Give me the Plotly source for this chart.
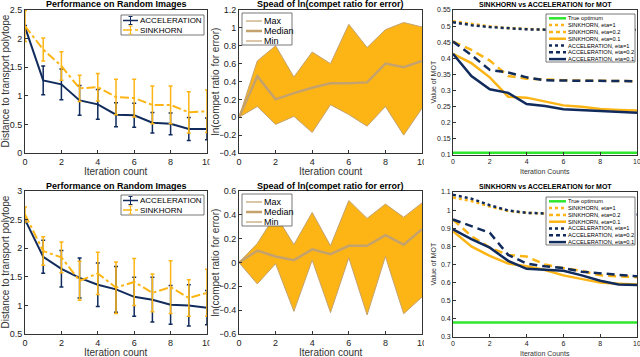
# Recreates the six-panel comparison of SINKHORN and ACCELERATION

import plotly.graph_objects as go

iters = list(range(11))

# Top-left: performance on random images (mean and error bar)
acc_top = [2.20, 1.27, 1.20, 0.92, 0.85, 0.67, 0.66, 0.53, 0.51, 0.42, 0.42]
acc_top_err = [0.03, 0.25, 0.27, 0.26, 0.26, 0.21, 0.21, 0.18, 0.19, 0.20, 0.19]
sink_top = [2.22, 1.81, 1.52, 1.13, 1.15, 0.98, 0.96, 0.84, 0.84, 0.71, 0.73]
sink_top_err = [0.27, 0.20, 0.25, 0.23, 0.24, 0.31, 0.33, 0.33, 0.33, 0.36, 0.37]

# Top-middle: spread of ln(competitive ratio)
max_top = [0, 0.63, 0.80, 0.45, 0.73, 0.60, 1.04, 0.78, 0.98, 1.06, 1.01]
med_top = [0, 0.46, 0.20, 0.27, 0.33, 0.38, 0.38, 0.39, 0.60, 0.56, 0.63]
min_top = [0, 0.12, -0.08, 0.01, -0.17, 0.14, 0.03, -0.10, 0.12, -0.20, 0.10]

# Top-right: value of MOT
opt_top = [0.107] * 11
s1_top = [0.515, 0.506, 0.499, 0.494, 0.491, 0.489, 0.489, 0.488, 0.488, 0.488, 0.488]
s02_top = [0.452, 0.426, 0.393, 0.345, 0.337, 0.334, 0.332, 0.331, 0.330, 0.329, 0.329]
s01_top = [0.414, 0.385, 0.341, 0.281, 0.278, 0.266, 0.254, 0.250, 0.243, 0.240, 0.238]
a1_top = [0.512, 0.503, 0.497, 0.493, 0.490, 0.489, 0.489, 0.489, 0.489, 0.489, 0.489]
a02_top = [0.452, 0.410, 0.364, 0.356, 0.341, 0.332, 0.331, 0.331, 0.330, 0.329, 0.329]
a01_top = [0.414, 0.345, 0.304, 0.293, 0.258, 0.252, 0.242, 0.239, 0.235, 0.233, 0.231]

# Bottom-left: performance on random images
acc_bot = [2.50, 1.85, 1.64, 1.48, 1.36, 1.28, 1.15, 1.10, 1.01, 1.00, 0.96]
acc_bot_err = [0.05, 0.29, 0.32, 0.35, 0.38, 0.40, 0.34, 0.39, 0.34, 0.36, 0.30]
sink_bot = [2.59, 1.95, 1.84, 1.43, 1.56, 1.31, 1.41, 1.22, 1.32, 1.13, 1.22]
sink_bot_err = [0.13, 0.25, 0.27, 0.34, 0.37, 0.45, 0.41, 0.33, 0.46, 0.32, 0.41]

# Bottom-middle: spread of ln(competitive ratio)
max_bot = [0, 0.16, 0.40, 0.15, 0.42, 0.14, 0.52, 0.37, 0.49, 0.38, 0.50]
med_bot = [0, 0.10, 0.05, 0.02, 0.11, 0.07, 0.14, 0.14, 0.23, 0.15, 0.28]
min_bot = [0, -0.18, -0.01, -0.41, 0.02, -0.42, 0.04, -0.44, 0.05, -0.43, -0.29]

# Bottom-right: value of MOT
opt_bot = [0.38] * 11
s1_bot = [1.070, 1.050, 1.020, 0.995, 0.985, 0.980, 0.978, 0.977, 0.976, 0.976, 0.976]
s02_bot = [0.948, 0.857, 0.793, 0.753, 0.744, 0.700, 0.680, 0.665, 0.640, 0.635, 0.630]
s01_bot = [0.884, 0.800, 0.747, 0.705, 0.690, 0.670, 0.640, 0.622, 0.600, 0.594, 0.590]
a1_bot = [1.085, 1.063, 1.027, 0.998, 0.985, 0.980, 0.978, 0.977, 0.976, 0.976, 0.976]
a02_bot = [0.948, 0.910, 0.875, 0.753, 0.705, 0.690, 0.680, 0.660, 0.650, 0.643, 0.635]
a01_bot = [0.894, 0.840, 0.793, 0.720, 0.676, 0.672, 0.665, 0.640, 0.610, 0.590, 0.587]

NAVY = '#102B5C'
GOLD = '#FDB515'
TAN = '#C4A26E'
GREEN = '#2EE62E'
FONT = 'Liberation Sans'
W, H = 640, 357
DASH = '8px,5px'

fig = go.Figure()

# pixel boxes of the six plot areas: (left, right, top, bottom)
boxes = [(25, 207, 10, 153), (239, 422, 10, 153), (453, 637, 10, 155),
         (25, 207, 191, 334), (239, 422, 191, 334), (453, 637, 192, 337)]


def px(x):
    return x / W


def py(y):
    return 1 - y / H


def ax(n):
    return ('x' if n == 1 else f'x{n}'), ('y' if n == 1 else f'y{n}')


def perfPanel(n, acc, acc_err, sink, sink_err):
    xa, ya = ax(n)
    fig.add_trace(go.Scatter(x=iters, y=acc, name='ACCELERATION', mode='lines',
                             line=dict(color=NAVY, width=2),
                             error_y=dict(type='data', array=acc_err, color=NAVY, thickness=1.5, width=2),
                             xaxis=xa, yaxis=ya))
    fig.add_trace(go.Scatter(x=iters, y=sink, name='SINKHORN', mode='lines',
                             line=dict(color=GOLD, width=2, dash='dashdot'),
                             error_y=dict(type='data', array=sink_err, color=GOLD, thickness=1.5, width=2),
                             xaxis=xa, yaxis=ya))


def spreadPanel(n, mx, md, mn):
    xa, ya = ax(n)
    fig.add_trace(go.Scatter(x=iters, y=mx, name='Max', mode='lines',
                             line=dict(color=TAN, width=1), xaxis=xa, yaxis=ya))
    fig.add_trace(go.Scatter(x=iters, y=mn, name='Min', mode='lines',
                             line=dict(color=TAN, width=1), fill='tonexty', fillcolor=GOLD,
                             xaxis=xa, yaxis=ya))
    fig.add_trace(go.Scatter(x=iters, y=md, name='Median', mode='lines',
                             line=dict(color=TAN, width=2.5), xaxis=xa, yaxis=ya))


mot_names = ['True optimum', 'SINKHORN, eta=1', 'SINKHORN, eta=0.2', 'SINKHORN, eta=0.1',
             'ACCELERATION, eta=1', 'ACCELERATION, eta=0.2', 'ACCELERATION, eta=0.1']
mot_styles = [(GREEN, 'solid'), (GOLD, 'dot'), (GOLD, DASH), (GOLD, 'solid'),
              (NAVY, 'dot'), (NAVY, DASH), (NAVY, 'solid')]


def motPanel(n, series):
    xa, ya = ax(n)
    for name, vals, (color, dash) in zip(mot_names, series, mot_styles):
        fig.add_trace(go.Scatter(x=iters, y=vals, name=name, mode='lines',
                                 line=dict(color=color, width=2.5, dash=dash),
                                 xaxis=xa, yaxis=ya))


perfPanel(1, acc_top, acc_top_err, sink_top, sink_top_err)
spreadPanel(2, max_top, med_top, min_top)
motPanel(3, [opt_top, s1_top, s02_top, s01_top, a1_top, a02_top, a01_top])
perfPanel(4, acc_bot, acc_bot_err, sink_bot, sink_bot_err)
spreadPanel(5, max_bot, med_bot, min_bot)
motPanel(6, [opt_bot, s1_bot, s02_bot, s01_bot, a1_bot, a02_bot, a01_bot])

yranges = [[0, 2.5], [-0.4, 1.2], [0.1, 0.55], [0.5, 3], [-0.6, 0.6], [0.3, 1.1]]
ydticks = [0.5, 0.2, 0.05, 0.5, 0.2, 0.1]
ytitles = ['Distance to transport polytope', 'ln(compet ratio for error)', 'Value of MOT'] * 2
xtitles = ['Iteration count', 'Iteration count', 'Iteration Counts'] * 2
titles = ['Performance on Random Images', 'Spead of ln(compet ratio for error)',
          'SINKHORN vs ACCELERATION for MOT'] * 2
ytitle_x = [5, 215, 433] * 2

layout = {}
for i, (l, r, t, b) in enumerate(boxes):
    n = i + 1
    small = n in (3, 6)
    fs = 7 if small else 9
    suffix = '' if n == 1 else str(n)
    axis_style = dict(showline=True, mirror=True, linecolor='#333333', linewidth=0.8,
                      ticks='inside', ticklen=3, tickcolor='#333333', showgrid=False,
                      zeroline=False, automargin=False, ticklabeloverflow='allow',
                      tickfont=dict(size=fs, color='#222222'))
    layout['xaxis' + suffix] = dict(axis_style, domain=[px(l), px(r)], range=[0, 10], dtick=2,
                                    anchor='y' + suffix)
    layout['yaxis' + suffix] = dict(axis_style, domain=[py(b), py(t)], range=yranges[i],
                                    dtick=ydticks[i], anchor='x' + suffix)
    # panel title
    fig.add_annotation(text=f'<b>{titles[i]}</b>', xref='paper', yref='paper',
                       x=px((l + r) / 2), y=py(t - 5.5), xanchor='center', yanchor='middle',
                       showarrow=False, font=dict(size=7 if small else 9, color='black'))
    # axis titles
    fig.add_annotation(text=xtitles[i], xref='paper', yref='paper',
                       x=px((l + r) / 2), y=py(b + (16 if small else 18)), xanchor='center',
                       yanchor='middle', showarrow=False,
                       font=dict(size=7 if small else 10, color='#333333'))
    fig.add_annotation(text=ytitles[i], xref='paper', yref='paper', textangle=-90,
                       x=px(ytitle_x[i]), y=py((t + b) / 2), xanchor='center', yanchor='middle',
                       showarrow=False, font=dict(size=7 if small else 10, color='#333333'))


# legends drawn by hand so the rows can be as tight as in the original
def addLegend(box, rows, line_x, text_x, font_size):
    x0, x1, y0, y1 = box
    fig.add_shape(type='rect', xref='paper', yref='paper', x0=px(x0), x1=px(x1), y0=py(y1), y1=py(y0),
                  fillcolor='white', line=dict(color='#555555', width=0.8), layer='above')
    for y, name, color, width, dash, bar in rows:
        fig.add_shape(type='line', xref='paper', yref='paper', x0=px(line_x[0]), x1=px(line_x[1]),
                      y0=py(y), y1=py(y), line=dict(color=color, width=width, dash=dash), layer='above')
        if bar:
            xm = (line_x[0] + line_x[1]) / 2
            fig.add_shape(type='line', xref='paper', yref='paper', x0=px(xm), x1=px(xm),
                          y0=py(y - 4), y1=py(y + 4), line=dict(color=color, width=1), layer='above')
            for yc in (y - 4, y + 4):
                fig.add_shape(type='line', xref='paper', yref='paper', x0=px(xm - 2), x1=px(xm + 2),
                              y0=py(yc), y1=py(yc), line=dict(color=color, width=1), layer='above')
        fig.add_annotation(text=name, xref='paper', yref='paper', x=px(text_x), y=py(y),
                           xanchor='left', yanchor='middle', showarrow=False,
                           font=dict(size=font_size, color='black'))


for top in (15, 195):
    addLegend((121, 204, top, top + 20),
              [(top + 5.5, 'ACCELERATION', NAVY, 1.5, 'solid', True),
               (top + 15, 'SINKHORN', GOLD, 1.5, 'dashdot', True)],
              (123, 138), 138, 8)

for top in (13, 194):
    addLegend((242, 292, top, top + 32),
              [(top + 8, 'Max', TAN, 1.2, 'solid', False),
               (top + 18, 'Median', TAN, 2.5, 'solid', False),
               (top + 28, 'Min', TAN, 1.2, 'solid', False)],
              (246, 262), 262, 9)

for top in (14, 197):
    rows = []
    for k, (name, (color, dash)) in enumerate(zip(mot_names, mot_styles)):
        legend_dash = 'dot' if dash == 'dot' else ('4px,3px' if dash == DASH else 'solid')
        rows.append((top + 4.3 + k * 6.8, name, color, 2.5, legend_dash, False))
    addLegend((546, 635, top, top + 48), rows, (549, 566), 566, 5.7)

# the panels were pasted side by side, so the last x tick label of the
# left and middle plots is cut off by the next panel
for x0, x1 in [(209.5, 220), (424, 428)]:
    fig.add_shape(type='rect', xref='paper', yref='paper', x0=px(x0), x1=px(x1), y0=0, y1=1,
                  fillcolor='white', line=dict(width=0), layer='above')

fig.update_layout(layout)
fig.update_layout(width=W, height=H, margin=dict(l=0, r=0, t=0, b=0), showlegend=False,
                  plot_bgcolor='white', paper_bgcolor='white',
                  font=dict(family=FONT, color='#333333'))

# drop the page margin so the figure sits at the window's corner
fig.write_html('out.html', config={'displayModeBar': False},
               post_script="document.body.style.margin='0';")
